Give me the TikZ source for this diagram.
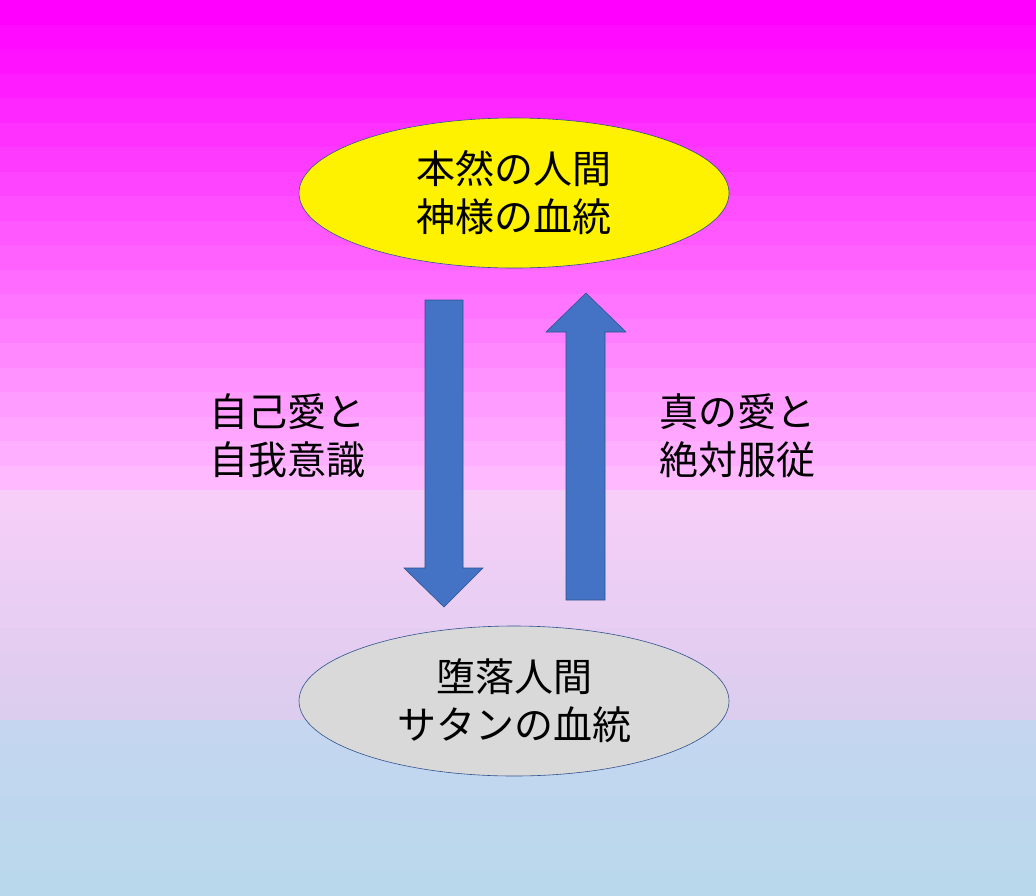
\documentclass[tikz,border=0pt]{standalone}
\usepackage{fontspec}
\setmainfont{Noto Sans CJK JP}
\usetikzlibrary{shapes.geometric}
\definecolor{arrowblue}{RGB}{68,114,196}
\definecolor{arrowedge}{RGB}{47,82,143}
\definecolor{pinkA}{RGB}{255,0,255}
\definecolor{pinkB}{RGB}{255,185,255}
\definecolor{lavA}{RGB}{246,206,248}
\definecolor{lavB}{RGB}{220,205,238}
\definecolor{bluA}{RGB}{196,214,240}
\definecolor{bluB}{RGB}{186,216,236}
\definecolor{ellgray}{RGB}{217,217,217}
\tikzset{
  ell/.style={ellipse, draw=arrowedge, line width=0.6pt, minimum width=430pt, minimum height=150pt, align=center, font=\fontsize{39pt}{48pt}\selectfont},
  lbl/.style={align=left, font=\fontsize{39pt}{48pt}\selectfont},
  arr/.style={fill=arrowblue, draw=arrowedge, line width=0.6pt}
}
\begin{document}
\begin{tikzpicture}[x=1pt,y=-1pt]
\useasboundingbox (0,0) rectangle (1036,895);
\foreach \i in {0,...,19}{
  \pgfmathsetmacro\p{100-\i*100/19}
  \fill[pinkA!\p!pinkB] (0,\i*24.5) rectangle (1036,\i*24.5+25);
}
\foreach \i in {0,...,9}{
  \pgfmathsetmacro\p{100-\i*100/9}
  \fill[lavA!\p!lavB] (0,490+\i*23) rectangle (1036,490+\i*23+23.5);
}
\foreach \i in {0,...,6}{
  \pgfmathsetmacro\p{100-\i*100/6}
  \fill[bluA!\p!bluB] (0,720+\i*25) rectangle (1036,720+\i*25+25.5);
}
\node[ell, fill=yellow, inner sep=0pt] (top) at (514,193) {本然の人間\\神様の血統};
\node[ell, fill=ellgray, inner sep=0pt] (bot) at (514,701) {堕落人間\\サタンの血統};
\draw[arr] (425,300) -- (463,300) -- (463,568) -- (483,568) -- (444,607) -- (404,568) -- (425,568) -- cycle;
\draw[arr] (566,600) -- (605,600) -- (605,332) -- (626,332) -- (586,293) -- (546,332) -- (566,332) -- cycle;
\node[lbl] (left) at (287,436) {自己愛と\\自我意識};
\node[lbl] (right) at (737,436) {真の愛と\\絶対服従};
\end{tikzpicture}
\end{document}
